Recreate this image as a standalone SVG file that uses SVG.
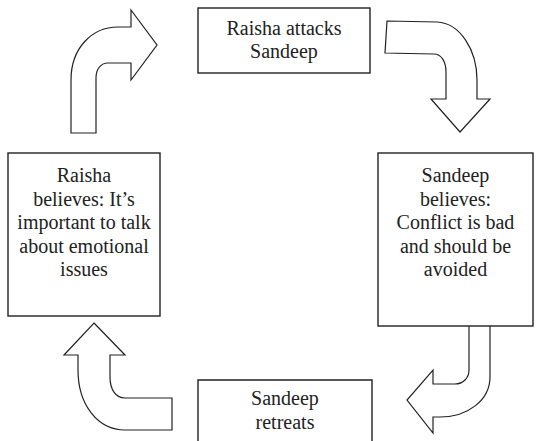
<svg xmlns="http://www.w3.org/2000/svg" width="541" height="441" viewBox="0 0 541 441">
<style>
.box{fill:#fff;stroke:#222;stroke-width:1.4}
.arrow{fill:#fff;stroke:#222;stroke-width:1.2;stroke-linejoin:miter}
</style>
<rect width="541" height="441" fill="#fff"/>
<g id="connectors">
<path class="arrow" d="M71,133 L71,80 C71,48 92,27 118,27 L131,27 L131,10 L157,45 L131,80 L131,63 L108,63 C100,63 96,70 96,78 L96,133 Z"/>
<path class="arrow" d="M387,21 L437,22 C460,23 477,50 477,80 L477,99 L490,99 L460,132 L431,99 L446,99 L446,72 C446,61 441,54 434,54 L385,53 Z"/>
<path class="arrow" d="M469,323 L490,323 L490,377 C490,400 468,417 440,417 L433,417 L433,433 L407,400 L433,370 L433,384 L455,384 C463,384 469,378 469,370 Z"/>
<path class="arrow" d="M94,323 L125,355 L110,355 L110,377 C110,390 116,398 125,398 L172,398 L172,430 L125,430 C98,430 78,405 78,370 L78,355 L64,355 Z"/>
</g>
<g id="node-attacks">
<rect class="box" x="198" y="8" width="172" height="65"/>
<text x="284" y="35" style="font-family:'Liberation Serif',serif;font-size:20px;text-anchor:middle;fill:#222">Raisha attacks</text>
<text x="284" y="58" style="font-family:'Liberation Serif',serif;font-size:20px;text-anchor:middle;fill:#222">Sandeep</text>
</g>
<g id="node-sandeep-believes">
<rect class="box" x="378" y="153" width="155" height="173"/>
<text x="455.5" y="182" style="font-family:'Liberation Serif',serif;font-size:20px;text-anchor:middle;fill:#222">Sandeep</text>
<text x="455.5" y="205.5" style="font-family:'Liberation Serif',serif;font-size:20px;text-anchor:middle;fill:#222">believes:</text>
<text x="455.5" y="229" style="font-family:'Liberation Serif',serif;font-size:20px;text-anchor:middle;fill:#222">Conflict is bad</text>
<text x="455.5" y="252.5" style="font-family:'Liberation Serif',serif;font-size:20px;text-anchor:middle;fill:#222">and should be</text>
<text x="455.5" y="276" style="font-family:'Liberation Serif',serif;font-size:20px;text-anchor:middle;fill:#222">avoided</text>
</g>
<g id="node-retreats">
<path class="box" d="M198,441 L198,380 L372,380 L372,441"/>
<text x="285" y="405" style="font-family:'Liberation Serif',serif;font-size:20px;text-anchor:middle;fill:#222">Sandeep</text>
<text x="285" y="429" style="font-family:'Liberation Serif',serif;font-size:20px;text-anchor:middle;fill:#222">retreats</text>
</g>
<g id="node-raisha-believes">
<rect class="box" x="8" y="153" width="152" height="163"/>
<text x="84" y="182" style="font-family:'Liberation Serif',serif;font-size:20px;text-anchor:middle;fill:#222">Raisha</text>
<text x="84" y="205.5" style="font-family:'Liberation Serif',serif;font-size:20px;text-anchor:middle;fill:#222">believes: It’s</text>
<text x="84" y="229" style="font-family:'Liberation Serif',serif;font-size:20px;text-anchor:middle;fill:#222">important to talk</text>
<text x="84" y="252.5" style="font-family:'Liberation Serif',serif;font-size:20px;text-anchor:middle;fill:#222">about emotional</text>
<text x="84" y="276" style="font-family:'Liberation Serif',serif;font-size:20px;text-anchor:middle;fill:#222">issues</text>
</g>
</svg>
